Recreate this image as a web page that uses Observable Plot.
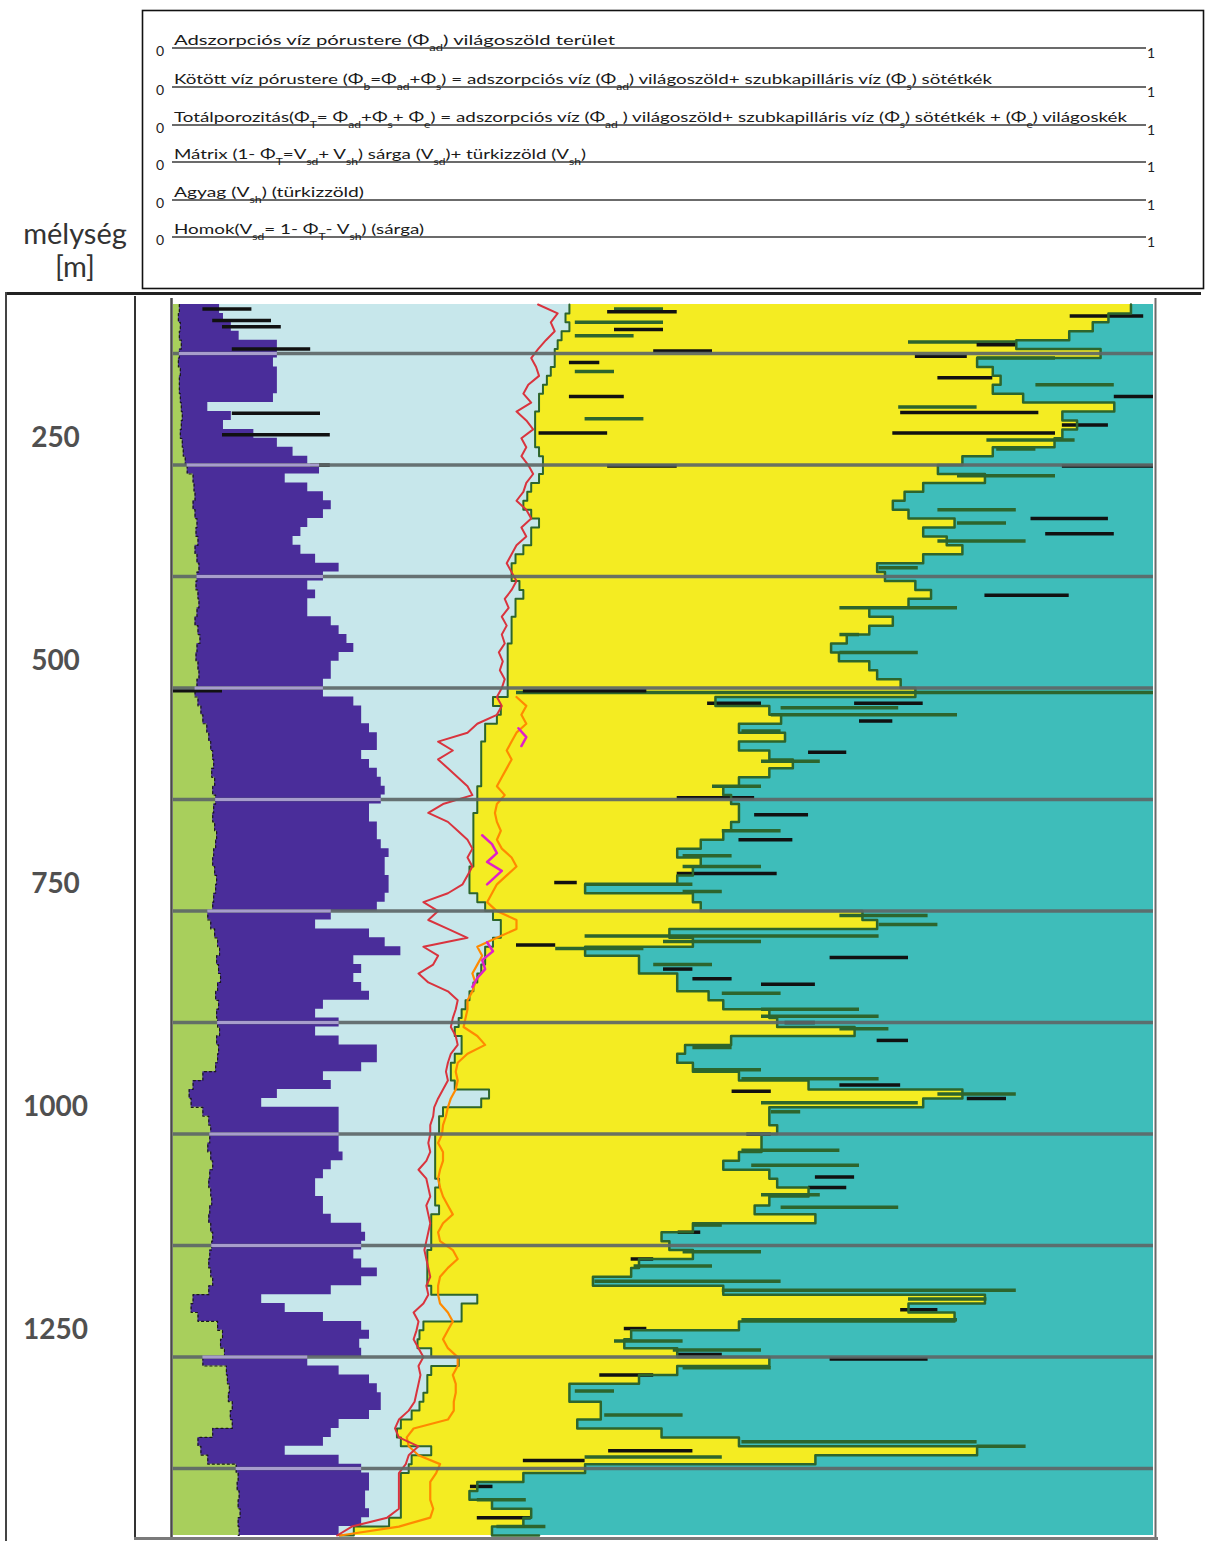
<!DOCTYPE html>
<html><head><meta charset="utf-8">
<script src="https://cdn.jsdelivr.net/npm/d3@7"></script>
<script src="https://cdn.jsdelivr.net/npm/@observablehq/plot@0.6"></script>
<style>
body{margin:0;background:#fff;width:1205px;height:1542px;position:relative;overflow:hidden;font-family:Lato,"Open Sans",sans-serif}
#header{position:absolute;left:0;top:0}
#chart{position:absolute;left:0;top:293px}
.ln{position:absolute}
</style></head><body>
<svg id="header" width="1205" height="293"></svg>
<div id="chart"></div>
<div class="ln" style="left:5px;top:292px;width:1196px;height:3px;background:#222"></div>
<div class="ln" style="left:5px;top:292px;width:2px;height:1249px;background:#444"></div>
<div class="ln" style="left:134px;top:296px;width:1.5px;height:1244px;background:#333"></div>
<div class="ln" style="left:134px;top:1537px;width:1024px;height:3px;background:#7a7a7a"></div>
<script>
// ---------------- data ----------------
const depth = [100,110,120,130,140,150,160,170,180,190,200,210,220,230,240,250,260,270,280,290,
300,310,320,330,340,350,360,370,380,390,400,410,420,430,440,450,460,470,480,490,
500,510,520,530,540,550,560,570,580,590,600,610,620,630,640,650,660,670,680,690,
700,710,720,730,740,750,760,770,780,790,800,810,820,830,840,850,860,870,880,890,
900,910,920,930,940,950,960,970,980,990,1000,1010,1020,1030,1040,1050,1060,1070,1080,1090,
1100,1110,1120,1130,1140,1150,1160,1170,1180,1190,1200,1210,1220,1230,1240,1250,1260,1270,1280,1290,
1300,1310,1320,1330,1340,1350,1360,1370,1380,1390,1400,1410,1420,1430,1440,1450,1460,1470,1480];

// adsorbed water (light green), cumulative from 0
const phiAd = [0.006,0.005,0.007,0.006,0.008,0.006,0.005,0.007,0.006,0.006,
0.007,0.008,0.009,0.008,0.007,0.009,0.010,0.012,0.014,0.02,
0.021,0.022,0.02,0.022,0.024,0.023,0.025,0.022,0.024,0.026,
0.024,0.023,0.025,0.026,0.024,0.022,0.025,0.027,0.024,0.023,
0.025,0.026,0.024,0.022,0.025,0.028,0.03,0.034,0.036,0.038,
0.04,0.041,0.039,0.042,0.04,0.043,0.041,0.04,0.042,0.044,
0.043,0.041,0.04,0.042,0.044,0.043,0.041,0.04,0.035,0.038,
0.042,0.045,0.047,0.044,0.046,0.048,0.045,0.043,0.046,0.044,
0.045,0.047,0.044,0.046,0.045,0.043,0.03,0.02,0.016,0.018,
0.03,0.036,0.038,0.037,0.035,0.038,0.04,0.037,0.036,0.038,
0.039,0.037,0.036,0.038,0.04,0.039,0.037,0.036,0.038,0.04,
0.036,0.02,0.018,0.025,0.045,0.05,0.048,0.052,0.03,0.054,
0.055,0.057,0.056,0.06,0.058,0.06,0.04,0.025,0.028,0.035,
0.064,0.066,0.065,0.067,0.066,0.068,0.066,0.067,0.065];

// bound water = adsorbed + subcapillary (dark blue), cumulative
const phiB = [0.047,0.051,0.059,0.067,0.106,0.106,0.102,0.106,0.106,0.106,
0.102,0.035,0.059,0.051,0.082,0.106,0.122,0.137,0.149,0.114,
0.137,0.153,0.161,0.153,0.137,0.13,0.122,0.13,0.145,0.169,
0.153,0.137,0.145,0.137,0.137,0.161,0.169,0.177,0.184,0.169,
0.161,0.161,0.153,0.153,0.184,0.192,0.192,0.2,0.208,0.208,
0.192,0.2,0.208,0.212,0.216,0.212,0.2,0.2,0.208,0.208,
0.212,0.22,0.216,0.216,0.22,0.22,0.216,0.208,0.161,0.145,
0.2,0.216,0.232,0.184,0.192,0.184,0.192,0.2,0.153,0.145,
0.169,0.145,0.169,0.208,0.208,0.192,0.153,0.161,0.106,0.09,
0.169,0.169,0.169,0.169,0.169,0.173,0.161,0.153,0.145,0.145,
0.153,0.153,0.161,0.192,0.196,0.192,0.184,0.192,0.208,0.192,
0.161,0.09,0.114,0.153,0.192,0.2,0.19,0.192,0.137,0.169,
0.2,0.208,0.212,0.212,0.2,0.169,0.161,0.153,0.114,0.169,
0.192,0.2,0.2,0.196,0.196,0.2,0.192,0.169,0.153];

// total porosity (end of light blue), cumulative
const phiT = [0.404,0.40,0.404,0.396,0.392,0.389,0.389,0.385,0.381,0.377,
0.373,0.373,0.369,0.369,0.369,0.369,0.373,0.377,0.377,0.373,
0.365,0.361,0.357,0.365,0.373,0.365,0.365,0.357,0.349,0.345,
0.345,0.353,0.357,0.349,0.349,0.345,0.345,0.345,0.341,0.341,
0.341,0.341,0.341,0.341,0.326,0.334,0.33,0.318,0.318,0.314,
0.314,0.314,0.314,0.314,0.31,0.31,0.31,0.306,0.306,0.306,
0.306,0.306,0.306,0.302,0.302,0.302,0.31,0.318,0.326,0.334,
0.334,0.326,0.318,0.318,0.314,0.31,0.306,0.302,0.298,0.294,
0.291,0.287,0.294,0.294,0.287,0.283,0.283,0.287,0.322,0.314,
0.275,0.271,0.271,0.267,0.267,0.267,0.267,0.267,0.271,0.267,
0.267,0.271,0.263,0.263,0.263,0.263,0.259,0.259,0.259,0.259,
0.263,0.31,0.294,0.294,0.255,0.251,0.249,0.263,0.291,0.263,
0.259,0.259,0.255,0.251,0.243,0.232,0.228,0.232,0.263,0.243,
0.24,0.232,0.232,0.232,0.232,0.232,0.22,0.184,0.169];

// total porosity + sand = 1 - Vsh (end of yellow)
const phiTplusVsd = [0.977,0.954,0.938,0.914,0.86,0.946,0.82,0.836,0.844,0.836,
0.867,0.96,0.907,0.922,0.907,0.899,0.836,0.805,0.78,0.828,
0.765,0.746,0.734,0.75,0.797,0.765,0.789,0.805,0.765,0.718,
0.726,0.757,0.773,0.75,0.71,0.734,0.71,0.687,0.671,0.679,
0.71,0.718,0.742,0.757,0.553,0.608,0.62,0.577,0.624,0.577,
0.608,0.632,0.608,0.577,0.561,0.569,0.577,0.577,0.569,0.561,
0.538,0.514,0.538,0.53,0.514,0.42,0.53,0.538,0.703,0.718,
0.506,0.53,0.42,0.475,0.475,0.514,0.514,0.546,0.561,0.608,
0.616,0.695,0.569,0.522,0.514,0.53,0.577,0.648,0.805,0.765,
0.608,0.608,0.616,0.60,0.60,0.577,0.561,0.608,0.616,0.648,
0.608,0.593,0.655,0.53,0.498,0.506,0.53,0.475,0.467,0.428,
0.561,0.828,0.75,0.797,0.577,0.467,0.46,0.514,0.608,0.514,
0.475,0.404,0.404,0.436,0.436,0.412,0.498,0.577,0.82,0.655,
0.42,0.357,0.31,0.302,0.325,0.365,0.357,0.325,0.373];

// alternative total porosity curves
const phiTred = [0.372,0.392,0.385,0.389,0.38,0.372,0.365,0.37,0.373,0.362,
0.357,0.365,0.35,0.36,0.367,0.355,0.36,0.355,0.362,0.367,
0.36,0.357,0.35,0.36,0.365,0.355,0.36,0.35,0.345,0.34,
0.345,0.35,0.345,0.338,0.342,0.335,0.34,0.335,0.338,0.332,
0.336,0.333,0.338,0.335,0.33,0.335,0.33,0.31,0.3,0.27,
0.285,0.27,0.28,0.29,0.3,0.305,0.275,0.26,0.28,0.29,
0.3,0.305,0.3,0.305,0.3,0.295,0.28,0.255,0.27,0.26,
0.28,0.3,0.255,0.27,0.265,0.25,0.26,0.28,0.29,0.288,
0.285,0.283,0.288,0.29,0.283,0.28,0.278,0.28,0.275,0.27,
0.266,0.265,0.262,0.262,0.26,0.262,0.258,0.25,0.258,0.26,
0.262,0.258,0.26,0.262,0.26,0.258,0.256,0.258,0.26,0.262,
0.258,0.26,0.255,0.245,0.25,0.248,0.245,0.25,0.255,0.25,
0.252,0.25,0.248,0.246,0.24,0.23,0.226,0.23,0.25,0.24,
0.237,0.23,0.23,0.23,0.23,0.23,0.218,0.182,0.167];

const phiTorange = [null,null,null,null,null,null,null,null,null,null,
null,null,null,null,null,null,null,null,null,null,
null,null,null,null,null,null,null,null,null,null,
null,null,null,null,null,null,null,null,null,null,
null,null,null,null,0.35,0.36,0.355,0.36,0.35,0.345,
0.34,0.345,0.34,0.335,0.33,0.338,0.33,0.328,0.33,0.334,
0.33,0.335,0.345,0.35,0.34,0.33,0.325,0.32,0.33,0.35,
0.35,0.33,0.31,0.315,0.31,0.305,0.308,0.305,0.3,0.3,
0.298,0.296,0.31,0.318,0.3,0.29,0.288,0.29,0.288,0.283,
0.28,0.278,0.275,0.274,0.27,0.275,0.275,0.272,0.27,0.272,
0.275,0.28,0.285,0.275,0.27,0.272,0.285,0.29,0.28,0.272,
0.27,0.27,0.272,0.28,0.285,0.28,0.275,0.28,0.29,0.29,
0.285,0.288,0.288,0.286,0.286,0.28,0.245,0.238,0.24,0.25,
0.272,0.268,0.262,0.262,0.262,0.265,0.262,0.23,0.17];

const magentaDepth = [575,585,595,600,695,705,715,725,735,745,750,755,815,825,835,845,855,865];
const magentaVal   = [0.352,0.36,0.355,null,0.315,0.325,0.33,0.32,0.335,0.325,0.32,null,0.32,0.326,0.315,0.318,0.31,0.305];

// thin log spikes: [depth, from, to]
const spikesBlack = [[105,0.03,0.08],[108,0.443,0.514],[113,0.915,0.99],[118,0.04,0.1],[125,0.05,0.11],[128,0.45,0.5],
[145,0.82,0.86],[150,0.06,0.14],[152,0.49,0.55],[158,0.757,0.81],[165,0.404,0.435],[182,0.78,0.836],[203,0.404,0.46],
[203,0.96,1.0],[221,0.742,0.883],[222,0.06,0.15],[235,0.907,0.954],[244,0.734,0.9],[244,0.373,0.443],[246,0.05,0.16],
[280,0.14,0.16],[281,0.443,0.514],[281,0.907,1.0],[340,0.875,0.954],[357,0.89,0.96],[426,0.828,0.914],[533,0.0,0.05],
[533,0.357,0.483],[547,0.545,0.6],[547,0.695,0.765],[567,0.70,0.734],[602,0.648,0.687],[653,0.514,0.593],
[672,0.593,0.648],[700,0.577,0.632],[738,0.514,0.616],[748,0.389,0.412],[818,0.35,0.39],[832,0.67,0.75],
[845,0.5,0.53],[856,0.53,0.57],[862,0.6,0.655],[905,0.624,0.655],[925,0.718,0.75],[975,0.68,0.742],[982,0.57,0.61],
[990,0.81,0.85],[1030,0.585,0.61],[1078,0.655,0.695],[1090,0.648,0.687],[1140,0.515,0.538],[1170,0.467,0.49],
[1227,0.742,0.78],[1248,0.46,0.483],[1277,0.514,0.56],[1282,0.67,0.77],[1300,0.435,0.49],[1385,0.444,0.53],
[1396,0.357,0.42],[1425,0.303,0.326],[1460,0.31,0.365]];
const spikesGreen = [[105,0.45,0.5],[120,0.41,0.5],[135,0.41,0.47],[142,0.75,0.86],[160,0.82,0.9],[175,0.41,0.45],
[190,0.88,0.96],[215,0.74,0.82],[228,0.42,0.48],[252,0.83,0.92],[262,0.84,0.88],[292,0.8,0.9],[330,0.78,0.86],
[345,0.8,0.85],[365,0.78,0.87],[395,0.72,0.76],[440,0.68,0.8],[470,0.68,0.7],[490,0.68,0.76],[535,0.35,1.0],
[552,0.62,0.74],[560,0.61,0.8],[578,0.58,0.62],[612,0.6,0.66],[640,0.55,0.6],[690,0.56,0.62],[718,0.52,0.57],
[730,0.52,0.6],[750,0.42,0.53],[758,0.52,0.56],[785,0.68,0.77],[795,0.72,0.78],[808,0.42,0.72],[814,0.5,0.6],
[822,0.39,0.48],[840,0.49,0.55],[872,0.56,0.62],[890,0.6,0.7],[898,0.6,0.72],[912,0.68,0.73],[933,0.53,0.57],
[958,0.53,0.6],[968,0.58,0.72],[985,0.78,0.86],[995,0.6,0.76],[1005,0.61,0.64],[1048,0.58,0.68],[1065,0.59,0.7],
[1098,0.6,0.66],[1112,0.62,0.74],[1132,0.53,0.56],[1162,0.52,0.6],[1178,0.47,0.55],[1195,0.43,0.62],[1205,0.56,0.86],
[1215,0.75,0.83],[1238,0.58,0.8],[1262,0.45,0.52],[1272,0.51,0.6],[1292,0.52,0.61],[1318,0.41,0.45],[1345,0.44,0.52],
[1375,0.58,0.82],[1380,0.82,0.87],[1392,0.42,0.56],[1440,0.31,0.36],[1470,0.33,0.38]];

const gridDepths = [155,280,405,530,655,780,905,1030,1155,1280,1405];
const depthTicks = [250,500,750,1000,1250];

const legendLabels = [
  "Adszorpciós víz pórustere (Φ_{ad}) világoszöld terület",
  "Kötött víz pórustere (Φ_{b}=Φ_{ad}+Φ_{s}) = adszorpciós víz (Φ_{ad}) világoszöld+ szubkapilláris víz (Φ_{s}) sötétkék",
  "Totálporozitás(Φ_{T}= Φ_{ad}+Φ_{s}+ Φ_{e}) = adszorpciós víz (Φ_{ad} ) világoszöld+ szubkapilláris víz (Φ_{s}) sötétkék + (Φ_{e}) világoskék",
  "Mátrix (1- Φ_{T}=V_{sd}+ V_{sh}) sárga (V_{sd})+ türkizzöld (V_{sh})",
  "Agyag (V_{sh}) (türkizzöld)",
  "Homok(V_{sd}= 1- Φ_{T}- V_{sh}) (sárga)"
];
const axisTitle = ["mélység", "[m]"];

// ---------------- header ----------------
const legendY = [48, 87, 125, 162, 200, 237];
const legendW = [441, 818, 953, 412, 190, 250];
const H = d3.select("#header");
H.append("rect").attr("x",142.5).attr("y",10.5).attr("width",1061).attr("height",278)
  .attr("fill","none").attr("stroke","#111").attr("stroke-width",1.6);
const toSvg = s => s.replace(/_\{([^}]*)\}/g, '<tspan baseline-shift="sub" font-size="9">$1</tspan>');
legendLabels.forEach((lab, i) => {
  const y = legendY[i];
  H.append("line").attr("x1",172).attr("x2",1146).attr("y1",y).attr("y2",y).attr("stroke","#3a3a3a").attr("stroke-width",1.4);
  H.append("text").attr("x",160).attr("y",y+8).attr("text-anchor","middle").attr("font-size",14).attr("fill","#222").text("0");
  H.append("text").attr("x",1151).attr("y",y+10).attr("text-anchor","middle").attr("font-size",14).attr("fill","#222").text("1");
  H.append("text").attr("x",174).attr("y",y-3).attr("font-size",14).attr("fill","#1a1a1a")
    .attr("textLength",legendW[i]).attr("lengthAdjust","spacingAndGlyphs").html(toSvg(lab));
});
H.append("text").attr("x",75).attr("y",244).attr("text-anchor","middle").attr("font-size",29).attr("fill","#333").text(axisTitle[0]);
H.append("text").attr("x",75).attr("y",277).attr("text-anchor","middle").attr("font-size",29).attr("fill","#333").text(axisTitle[1]);

// ---------------- chart ----------------
const rows = depth.map((d, i) => ({d, ad: phiAd[i], b: phiB[i], t: phiT[i], m: phiTplusVsd[i], r: phiTred[i], o: phiTorange[i]}));
const mag = magentaDepth.map((d, i) => ({d, v: magentaVal[i]}));
const sb = spikesBlack.map(([d, a, b]) => ({d, a, b}));
const sg = spikesGreen.map(([d, a, b]) => ({d, a, b}));
// portion of each gridline that crosses the dark-blue layer (drawn lighter, as in the log)
const gridOnBlue = gridDepths.map(g => {
  const i = d3.minIndex(depth, d => Math.abs(d - g));
  return {d: g, a: phiAd[i], b: phiB[i]};
});

const TEAL = "#3ebdba", YELLOW = "#f4ec22", LBLUE = "#c7e7eb", DBLUE = "#4a2d9a", LGREEN = "#a8cf5c", DKGREEN = "#2d652d";
const step = "step-before";

const chart = Plot.plot({
  width: 1205, height: 1249,
  marginLeft: 173, marginRight: 52, marginTop: 11, marginBottom: 7,
  x: {domain: [0, 1], axis: null},
  y: {domain: [100, 1480], reverse: true, axis: null},
  style: {background: "none", overflow: "visible", fontFamily: "Lato, sans-serif"},
  marks: [
    Plot.areaX(rows, {y: "d", x1: 0, x2: 1, fill: TEAL, curve: step}),
    Plot.areaX(rows, {y: "d", x1: 0, x2: "m", fill: YELLOW, curve: step}),
    Plot.areaX(rows, {y: "d", x1: 0, x2: "t", fill: LBLUE, curve: step}),
    Plot.areaX(rows, {y: "d", x1: 0, x2: "b", fill: DBLUE, curve: step}),
    Plot.areaX(rows, {y: "d", x1: 0, x2: "ad", fill: LGREEN, curve: step}),
    Plot.lineX(rows, {y: "d", x: "ad", stroke: "#1a1a1a", strokeWidth: 1.2, strokeDasharray: "2,3", curve: step}),
    Plot.ruleY(sg, {y: "d", x1: "a", x2: "b", stroke: DKGREEN, strokeWidth: 3.5}),
    Plot.ruleY(sb, {y: "d", x1: "a", x2: "b", stroke: "#111", strokeWidth: 3.5}),
    Plot.lineX(rows, {y: "d", x: "m", stroke: DKGREEN, strokeWidth: 2.5, curve: step}),
    Plot.lineX(rows, {y: "d", x: "t", stroke: DKGREEN, strokeWidth: 2, curve: step}),
    Plot.lineX(rows, {y: "d", x: "o", stroke: "#ff8a00", strokeWidth: 2.2}),
    Plot.lineX(mag, {y: "d", x: "v", stroke: "#e020c8", strokeWidth: 2.5}),
    Plot.lineX(rows, {y: "d", x: "r", stroke: "#d9343e", strokeWidth: 2}),
    Plot.ruleY(gridDepths, {x1: 0, x2: 1, stroke: "#5d6767", strokeWidth: 3.5, strokeOpacity: 0.92}),
    Plot.ruleY(gridOnBlue, {y: "d", x1: "a", x2: "b", stroke: "#a79dcc", strokeWidth: 3}),
    Plot.ruleX([0], {dx: -2, stroke: "#4a4a4a", strokeWidth: 2.5, insetTop: -6, insetBottom: -3}),
    Plot.ruleX([1], {dx: 2, stroke: "#6a6a6a", strokeWidth: 2, insetTop: -6, insetBottom: -3}),
    Plot.text(depthTicks, {y: d => d, text: d => String(d), frameAnchor: "left", dx: -118, textAnchor: "middle",
      fontSize: 28, fontWeight: 700, fill: "#505050"})
  ]
});
document.getElementById("chart").appendChild(chart);
</script>
</body></html>
